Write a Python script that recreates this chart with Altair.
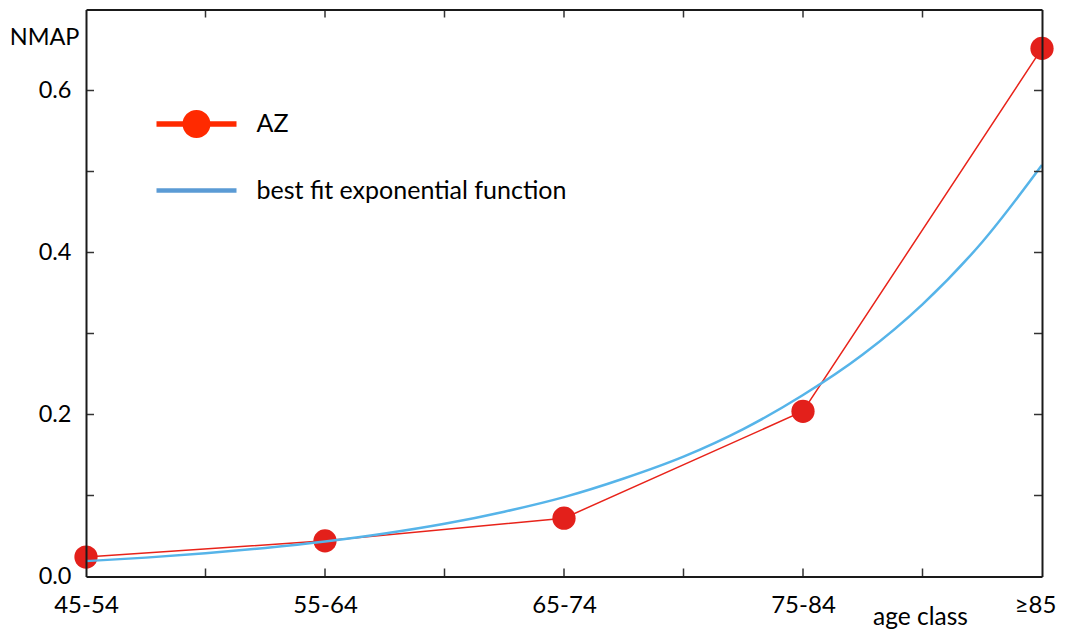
import json
import altair as alt
import pandas as pd

# ---- data ----
age_classes = ["45-54", "55-64", "65-74", "75-84", "≥85"]
az_pos = [0, 1, 2, 3, 4]
az_values = [0.024, 0.044, 0.072, 0.204, 0.652]

fit_pos = [0, 0.25, 0.5, 0.75, 1, 1.25, 1.5, 1.75, 2, 2.25, 2.5, 2.75, 3, 3.25, 3.5, 3.75, 4]
fit_values = [0.019, 0.0233, 0.0286, 0.0352, 0.0432, 0.053, 0.065, 0.080, 0.098,
              0.121, 0.148, 0.182, 0.224, 0.274, 0.336, 0.413, 0.508]

series_names = ["AZ", "best fit exponential function"]
y_labels = [0.0, 0.2, 0.4, 0.6]
y_minor = [0.1, 0.2, 0.3, 0.4, 0.5, 0.6]
x_minor = [0.5, 1, 1.5, 2, 2.5, 3, 3.5]

W, H = 956, 567
FONT = "Lato"
FRAME = "#1a1a1a"
TICKC = "#333333"

az_df = pd.DataFrame({"x": az_pos, "y": az_values})
fit_df = pd.DataFrame({"x": fit_pos, "y": fit_values})
xt_df = pd.DataFrame({"x": x_minor})
yt_df = pd.DataFrame({"y": y_minor})
leg_df = pd.DataFrame({"series": series_names})

xscale = alt.Scale(domain=[0, 4], nice=False, zero=False)
yscale = alt.Scale(domain=[0, 0.7], nice=False, zero=True)

label_expr = json.dumps(age_classes, ensure_ascii=False) + "[round(datum.value)]"

xaxis = alt.Axis(values=[0, 1, 2, 3, 4], labelExpr=label_expr, ticks=False, tickSize=0,
                 grid=False, domain=True, domainColor=FRAME, domainWidth=2,
                 labelFont=FONT, labelFontSize=24, labelColor="black", labelPadding=36,
                 labelBaseline="alphabetic", labelFlush=False, labelOverlap=False,
                 labelOffset={"condition": {"test": "datum.value === 4", "value": -7}, "value": 0},
                 title="age class", titleFont=FONT, titleFontSize=24.5, titleFontWeight="normal",
                 titleColor="black", titleX=834, titleY=48, titleAlign="center",
                 titleBaseline="alphabetic", zindex=1)
yaxis = alt.Axis(values=y_labels, format=".1f", ticks=False, tickSize=0, grid=False,
                 domain=True, domainColor=FRAME, domainWidth=2,
                 labelFont=FONT, labelFontSize=23.5, labelColor="black", labelPadding=15,
                 labelFlush=False, labelOverlap=False,
                 title="NMAP", titleFont=FONT, titleFontSize=23.5, titleFontWeight="normal",
                 titleColor="black", titleAngle=0, titleX=-7, titleY=34.5,
                 titleAlign="right", titleBaseline="alphabetic", zindex=1)

X = alt.X("x:Q", scale=xscale, axis=xaxis)
Y = alt.Y("y:Q", scale=yscale, axis=yaxis)

az_line = alt.Chart(az_df).mark_line(color="#E8231A", strokeWidth=1.5).encode(x=X, y=Y)
az_pts = alt.Chart(az_df).mark_point(filled=True, shape="circle", size=540, color="#E3201B",
                                     opacity=1).encode(x=X, y=Y)
fit_line = alt.Chart(fit_df).mark_line(color="#56B4E9", strokeWidth=2.5,
                                       interpolate="monotone").encode(x=X, y=Y)

bottom_ticks = alt.Chart(xt_df).mark_rule(color=TICKC, strokeWidth=1.5).encode(
    x=X, y=alt.value(H - 8), y2=alt.value(H))
left_ticks = alt.Chart(yt_df).mark_rule(color=TICKC, strokeWidth=1.5).encode(
    y=Y, x=alt.value(0), x2=alt.value(8))

az_path = "M-2,-0.14H2V0.14H-2Z M-0.7,0A0.7,0.7,0,1,1,0.7,0A0.7,0.7,0,1,1,-0.7,0Z"
fit_path = "M-2,-0.115H2V0.115H-2Z"
legend = alt.Legend(orient="none", legendX=90.5, legendY=94.5, direction="vertical",
                    title=None, symbolSize=1600, symbolStrokeWidth=0, symbolOpacity=1,
                    labelFont=FONT, labelFontSize=25, labelColor="black", labelOffset=40,
                    labelLimit=600, rowPadding=32.5, padding=0)
legend_layer = alt.Chart(leg_df).mark_point(filled=True, opacity=1).encode(
    color=alt.Color("series:N", scale=alt.Scale(domain=series_names, range=["#FF2A00", "#5B9BD5"]),
                    legend=legend),
    shape=alt.Shape("series:N", scale=alt.Scale(domain=series_names, range=[az_path, fit_path]),
                    legend=legend),
).transform_filter("false")

inner = alt.layer(bottom_ticks, left_ticks, az_line, az_pts, fit_line, legend_layer)

top_axis = alt.Axis(orient="top", labels=False, ticks=False, tickSize=0, title=None, grid=False,
                    domain=True, domainColor=FRAME, domainWidth=2, zindex=1)
right_axis = alt.Axis(orient="right", labels=False, ticks=False, tickSize=0, title=None, grid=False,
                      domain=True, domainColor=FRAME, domainWidth=2, zindex=1)

top_ticks = alt.Chart(xt_df).mark_rule(color=TICKC, strokeWidth=1.5).encode(
    x=alt.X("x:Q", scale=xscale, axis=top_axis), y=alt.value(0), y2=alt.value(8))
right_ticks = alt.Chart(yt_df).mark_rule(color=TICKC, strokeWidth=1.5).encode(
    y=alt.Y("y:Q", scale=yscale, axis=right_axis), x=alt.value(W - 8), x2=alt.value(W))

chart = alt.layer(inner, top_ticks, right_ticks).resolve_scale(
    x="independent", y="independent"
).properties(
    width=W, height=H,
    autosize=alt.AutoSizeParams(type="none"),
    padding={"left": 78, "top": 1.5, "right": 15, "bottom": 54},
    background="white",
).configure_view(stroke=None)

chart.save("out.html", embed_options={"renderer": "svg", "actions": False})
